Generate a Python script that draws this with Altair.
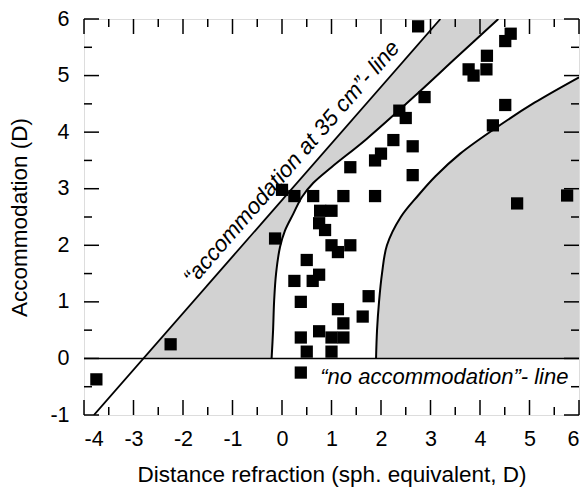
import altair as alt
import pandas as pd

# ---- data ----
pt_x = [-3.75, -2.25, -0.14, 0.0, 0.25, 0.63, 1.24, 1.88, 0.77, 1.0, 0.75, 0.87,
        1.0, 1.13, 1.38, 0.5, 0.25, 0.62, 0.75, 0.38, 1.75, 1.63, 1.13, 1.24,
        0.75, 1.0, 1.24, 0.38, 0.5, 1.0, 0.38, 1.38, 1.88, 2.0, 2.64, 2.25,
        2.64, 2.37, 2.5, 2.88, 2.75, 3.77, 3.87, 4.13, 4.14, 4.51, 4.62, 4.51,
        4.26, 4.75, 5.76]
pt_y = [-0.37, 0.25, 2.12, 2.98, 2.87, 2.87, 2.87, 2.87, 2.61, 2.61, 2.39, 2.27,
        2.0, 1.88, 2.0, 1.74, 1.37, 1.37, 1.48, 1.0, 1.10, 0.74, 0.87, 0.62,
        0.48, 0.37, 0.37, 0.37, 0.12, 0.12, -0.25, 3.38, 3.5, 3.62, 3.24, 3.86,
        3.75, 4.38, 4.25, 4.62, 5.87, 5.11, 5.0, 5.11, 5.35, 5.61, 5.74, 4.48,
        4.12, 2.74, 2.88]

# "accommodation at 35 cm" line (end points)
l35_x = [-3.8, 3.2]
l35_y = [-1.0, 6.0]
l35_offset = 2.8  # x = y - 2.8 along that line

# lower edge of the left hatched band
band_y = [0.0, 0.5, 1.0, 1.5, 1.97, 2.26, 2.56, 2.85, 3.1, 3.38, 3.88, 4.7, 5.3, 6.0]
band_x = [-0.21, -0.18, -0.16, -0.12, -0.04, 0.06, 0.23, 0.4, 0.63, 1.0, 1.71, 2.76, 3.5, 4.37]

# left edge of the right hatched region
right_y = [0.0, 0.5, 1.0, 1.5, 2.0, 2.5, 2.88, 3.22, 3.62, 4.05, 4.52, 4.97]
right_x = [1.9, 1.92, 1.96, 2.02, 2.12, 2.4, 2.75, 3.1, 3.6, 4.28, 5.1, 6.0]

x_major = [-4, -3, -2, -1, 0, 1, 2, 3, 4, 5, 6]
x_minor = [-3.5, -2.5, -1.5, -0.5, 0.5, 1.5, 2.5, 3.5, 4.5, 5.5]
y_major = [-1, 0, 1, 2, 3, 4, 5, 6]
y_minor = [-0.5, 0.5, 1.5, 2.5, 3.5, 4.5, 5.5]

x_title = "Distance refraction (sph. equivalent, D)"
y_title = "Accommodation (D)"
txt_35 = "\u201caccommodation at 35 cm\u201d- line"
txt_no = "\u201cno accommodation\u201d- line"

FONT = "Liberation Sans"
W, H = 495, 396
HATCH = "#d2d2d2"
CURVE = "catmull-rom"

xs = alt.Scale(domain=[-4, 6], nice=False, zero=False)
ys = alt.Scale(domain=[-1, 6], nice=False, zero=False)

xa = alt.Axis(values=x_major, labelExpr="'' + datum.value", grid=False, ticks=False,
              tickSize=0, domain=False, labelFontSize=21.5, labelPadding=13,
              labelColor="black", labelFont=FONT, titleFont=FONT, titleFontSize=22.5,
              titleFontWeight="normal", titleColor="black", titlePadding=14)
ya = alt.Axis(values=y_major, labelExpr="'' + datum.value", grid=False, ticks=False,
              tickSize=0, domain=False, labelFontSize=21.5, labelPadding=15,
              labelColor="black", labelFont=FONT, titleFont=FONT, titleFontSize=22.5,
              titleFontWeight="normal", titleColor="black", titlePadding=18)


def X(f):
    return alt.X(f, scale=xs, axis=xa, title=x_title)


def Y(f):
    return alt.Y(f, scale=ys, axis=ya, title=y_title)


pts = pd.DataFrame({"px": pt_x, "py": pt_y})
band = pd.DataFrame({"yy": band_y, "xl": [v - l35_offset for v in band_y], "xr": band_x,
                     "i": list(range(len(band_y)))})
right = pd.DataFrame({"yy": right_y, "xl": right_x, "xr": [6.0] * len(right_y),
                      "i": list(range(len(right_y)))})
l35 = pd.DataFrame({"px": l35_x, "py": l35_y})

band_area = alt.Chart(band).mark_area(orient="horizontal", color=HATCH, opacity=1,
                                      interpolate=CURVE, clip=True).encode(
    y=Y("yy:Q"), x=X("xl:Q"), x2=alt.X2("xr:Q"))
right_area = alt.Chart(right).mark_area(orient="horizontal", color=HATCH, opacity=1,
                                        interpolate=CURVE, clip=True).encode(
    y=Y("yy:Q"), x=X("xl:Q"), x2=alt.X2("xr:Q"))

band_line = alt.Chart(band).mark_line(color="black", strokeWidth=2, interpolate=CURVE,
                                      clip=True).encode(
    x=X("xr:Q"), y=Y("yy:Q"), order="i:Q")
right_line = alt.Chart(right).mark_line(color="black", strokeWidth=2, interpolate=CURVE,
                                        clip=True).encode(
    x=X("xl:Q"), y=Y("yy:Q"), order="i:Q")
line35 = alt.Chart(l35).mark_line(color="black", strokeWidth=1.8, clip=True).encode(
    x=X("px:Q"), y=Y("py:Q"))
zero_line = alt.Chart(pd.DataFrame({"py": [0]})).mark_rule(color="black",
                                                          strokeWidth=1.6).encode(
    y=Y("py:Q"))

points = alt.Chart(pts).mark_square(size=150, color="black", opacity=1).encode(
    x=X("px:Q"), y=Y("py:Q"))

ann = pd.DataFrame({"px": [0.2, 3.28], "py": [3.46, -0.33], "t": [txt_35, txt_no]})
ann35 = alt.Chart(ann.iloc[[0]]).mark_text(font=FONT, fontSize=22.5, fontStyle="italic",
                                           angle=311.1, align="center", baseline="middle",
                                           color="black").encode(
    x=X("px:Q"), y=Y("py:Q"), text="t:N")
ann_no = alt.Chart(ann.iloc[[1]]).mark_text(font=FONT, fontSize=22, fontStyle="italic",
                                            align="center", baseline="middle",
                                            color="black").encode(
    x=X("px:Q"), y=Y("py:Q"), text="t:N")


def xticks(vals, y0, y1):
    return alt.Chart(pd.DataFrame({"px": vals})).mark_rule(color="black",
                                                          strokeWidth=1.5).encode(
        x=X("px:Q"), y=alt.value(y0), y2=alt.value(y1))


def yticks(vals, x0, x1):
    return alt.Chart(pd.DataFrame({"py": vals})).mark_rule(color="black",
                                                          strokeWidth=1.5).encode(
        y=Y("py:Q"), x=alt.value(x0), x2=alt.value(x1))


ticks = [
    xticks(x_major, H, H - 15), xticks(x_minor, H, H - 8),
    xticks(x_major, 0, 15), xticks(x_minor, 0, 8),
    yticks(y_major, 0, 15), yticks(y_minor, 0, 8),
    yticks(y_major, W, W - 15), yticks(y_minor, W, W - 8),
]

chart = alt.layer(
    band_area, right_area, band_line, right_line, line35, zero_line, *ticks,
    ann35, ann_no, points
).properties(
    width=W, height=H,
    autosize=alt.AutoSizeParams(type="none"),
    padding={"left": 84, "top": 19, "right": 6, "bottom": 81},
).configure_view(stroke="black", strokeWidth=2).configure(background="white")

chart.save("out.html", embed_options={"renderer": "svg", "actions": False})
